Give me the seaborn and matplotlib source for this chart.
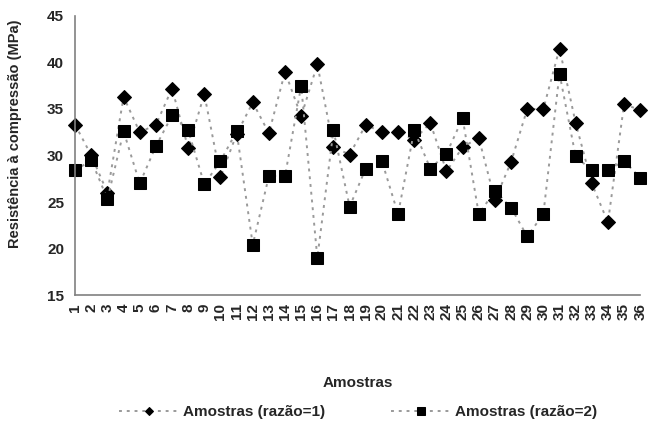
import numpy as np
import pandas as pd
import matplotlib
matplotlib.use("Agg")
import matplotlib.pyplot as plt
import seaborn as sns

# dados
amostras = list(range(1, 37))
razao1 = [33.3, 30.0, 26.0, 36.3, 32.5, 33.3, 37.2, 30.8, 36.6, 27.7, 32.3, 35.7,
          32.4, 39.0, 34.2, 39.8, 30.9, 30.1, 33.3, 32.5, 32.5, 31.7, 33.5, 28.3,
          30.9, 31.9, 25.2, 29.3, 35.0, 35.0, 41.5, 33.5, 27.0, 22.8, 35.5, 34.9]
razao2 = [28.4, 29.5, 25.3, 32.6, 27.0, 31.0, 34.3, 32.7, 26.9, 29.4, 32.6, 20.4,
          27.8, 27.8, 37.5, 19.0, 32.7, 24.5, 28.6, 29.4, 23.7, 32.7, 28.6, 30.2,
          34.0, 23.7, 26.2, 24.4, 21.3, 23.7, 38.8, 29.9, 28.4, 28.4, 29.4, 27.6]
yticks = [15, 20, 25, 30, 35, 40, 45]

df = pd.DataFrame({"Amostra": amostras, "r1": razao1, "r2": razao2})

sns.set_style("white")
plt.rcParams['font.family'] = ['Liberation Sans', 'DejaVu Sans']
plt.rcParams['font.weight'] = 'bold'

fig = plt.figure(figsize=(6.48, 4.43), dpi=100)
ax = fig.add_axes([0.116, 0.334, 0.872, 0.630])

sns.lineplot(data=df, x="Amostra", y="r1", ax=ax, color="#9a9a9a", linestyle=(0, (1.5, 2.5)),
             lw=1.4, marker="D", markersize=7, markerfacecolor="black",
             markeredgecolor="black", label="Amostras (razão=1)", clip_on=False)
sns.lineplot(data=df, x="Amostra", y="r2", ax=ax, color="#9a9a9a", linestyle=(0, (1.5, 2.5)),
             lw=1.4, marker="s", markersize=8, markerfacecolor="black",
             markeredgecolor="black", label="Amostras (razão=2)", clip_on=False)

ax.set_xlim(1, 36)
ax.set_ylim(15, 45)
ax.set_xticks(amostras)
ax.set_xticklabels([str(a) for a in amostras], rotation=90, fontsize=11, fontweight="bold")
ax.set_yticks(yticks)
ax.set_yticklabels([str(v) for v in yticks], fontsize=11, fontweight="bold")
ax.tick_params(axis="both", direction="out", length=5, width=1, color="#808080")
ax.tick_params(axis="y", pad=3)
ax.tick_params(axis="x", pad=1)
for s in ["top", "right"]:
    ax.spines[s].set_visible(False)
for s in ["left", "bottom"]:
    ax.spines[s].set_color("#808080")
    ax.spines[s].set_linewidth(1.2)

ax.set_xlabel("Amostras", fontsize=11, fontweight="bold")
ax.xaxis.set_label_coords(0.5, -0.29)
ax.set_ylabel("Resistência à compressão (MPa)", fontsize=10.5, fontweight="bold")
ax.yaxis.set_label_coords(-0.094, 0.577)

ax.legend(loc="center", bbox_to_anchor=(0.5, -0.42), ncol=2, frameon=False,
          fontsize=11, handlelength=4, columnspacing=4.3, handletextpad=0.2,
          markerscale=0.65)

fig.savefig("out.png", dpi=100)
